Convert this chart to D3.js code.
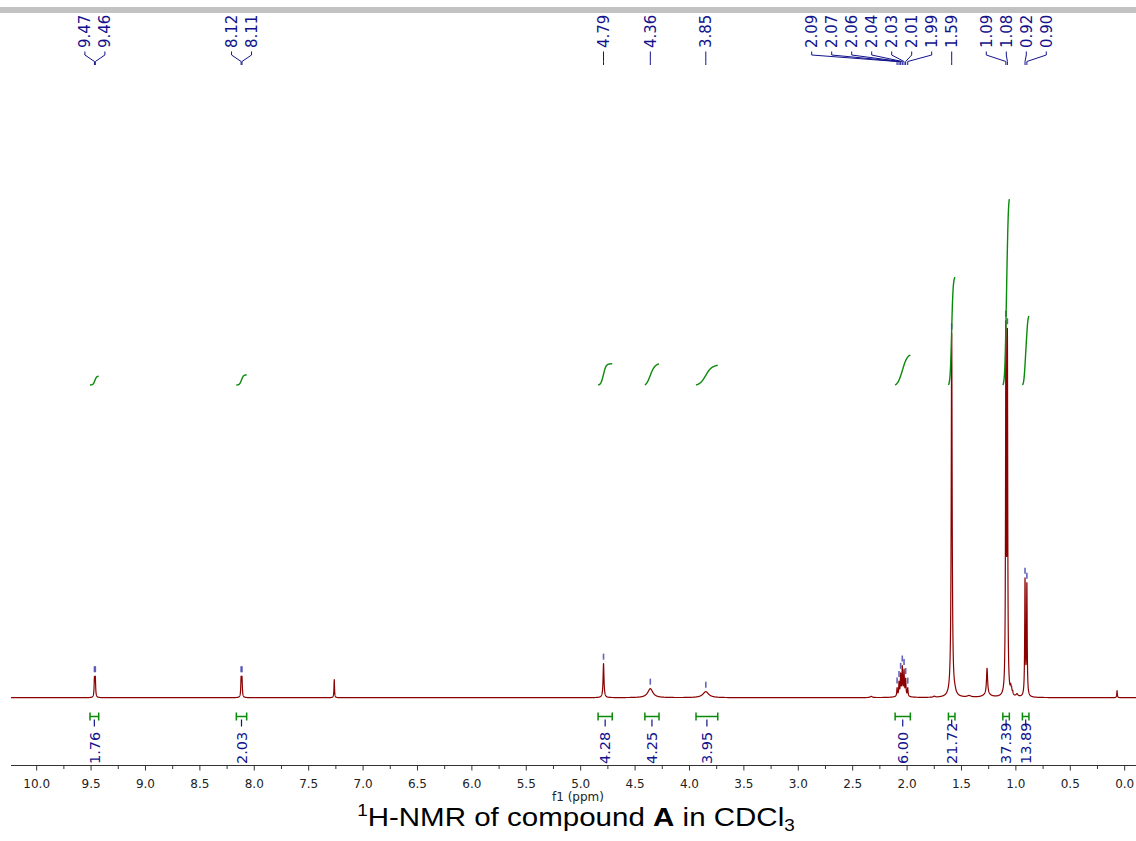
<!DOCTYPE html>
<html>
<head>
<meta charset="utf-8">
<script src="https://cdn.jsdelivr.net/npm/d3@7"></script>
<style>
  html, body { margin: 0; padding: 0; background: #ffffff; }
  svg { display: block; }
</style>
</head>
<body>
<svg id="chart" width="1136" height="841"></svg>
<script>
// ---- Spectrum lines: shift (ppm), height, half-width (ppm) ----
const linePpm    = [9.469, 9.461, 8.121, 8.113, 7.265, 4.790, 4.360, 3.850, 2.330,
                    2.092, 2.074, 2.059, 2.044, 2.028, 2.013, 1.994, 2.045, 1.750,
                    1.590, 1.590, 1.560, 1.430, 1.265, 1.265,
                    1.092, 1.078, 1.048, 1.040, 1.030, 0.990, 0.916, 0.899, 0.070];
const lineHeight = [18.5, 18.5, 18.5, 18.5, 18, 34, 9, 6, 1.2,
                    8, 13, 20, 27, 24, 16, 8, 2.5, 1,
                    361, 3, 2, 1.5, 26, 3,
                    356, 348, 6, 5, 3, 2.5, 115, 110, 7];
const lineWidth  = [0.0035, 0.0035, 0.0035, 0.0035, 0.003, 0.005, 0.028, 0.032, 0.012,
                    0.0035, 0.0035, 0.0035, 0.0035, 0.0035, 0.0035, 0.0035, 0.04, 0.01,
                    0.005, 0.03, 0.01, 0.02, 0.006, 0.04,
                    0.0035, 0.0035, 0.004, 0.004, 0.004, 0.01, 0.0035, 0.0035, 0.003];

// ---- Picked peaks (ppm) ----
const pickedPpm = [9.469, 9.461, 8.121, 8.113, 4.790, 4.360, 3.850,
                   2.092, 2.074, 2.059, 2.044, 2.028, 2.013, 1.994,
                   1.590, 1.092, 1.078, 0.916, 0.899];

// ---- Integrals: region (ppm) and normalised area ----
const integralFrom  = [9.51, 8.165, 4.84, 4.41, 3.94, 2.11, 1.62, 1.12, 0.94];
const integralTo    = [9.43, 8.07, 4.71, 4.28, 3.74, 1.97, 1.56, 1.06, 0.88];
const integralValue = [1.76, 2.03, 4.28, 4.25, 3.95, 6.00, 21.72, 37.39, 13.89];

// ---- Axis ----
const majorTicks = [10.0, 9.5, 9.0, 8.5, 8.0, 7.5, 7.0, 6.5, 6.0, 5.5, 5.0,
                    4.5, 4.0, 3.5, 3.0, 2.5, 2.0, 1.5, 1.0, 0.5, 0.0];
const minorTicks = [9.75, 9.25, 8.75, 8.25, 7.75, 7.25, 6.75, 6.25, 5.75, 5.25,
                    4.75, 4.25, 3.75, 3.25, 2.75, 2.25, 1.75, 1.25, 0.75, 0.25];
const axisLabel = "f1 (ppm)";

// ---- Styling ----
const C_SPEC = "#8b0000", C_INT = "#0a8a0a", C_TXT = "#12128c", C_MARK = "#4a4ab4";
const FONT = "'DejaVu Sans', Verdana, sans-serif";

const svg = d3.select("#chart");

const x = d3.scaleLinear().domain([10.236, -0.104]).range([11, 1136]);
const y = d3.scaleLinear().domain([0, 400]).range([697.7, 297.7]);
const yInt = d3.scaleLinear().domain([0, 40]).range([385, 385 - 40 * 4.97]);
const AXIS_Y = 765.5;

function spectrumAt(p) {
  let s = 0;
  for (let i = 0; i < linePpm.length; i++) {
    const u = (p - linePpm[i]) / lineWidth[i];
    s += lineHeight[i] / (1 + u * u);
  }
  return s;
}

// top band
svg.append("rect").attr("x", 0).attr("y", 7).attr("width", 1136).attr("height", 6)
  .attr("fill", "#c2c2c2");

// ---- spectrum trace ----
const step = 0.0005;
const nPts = Math.round((x.domain()[0] - x.domain()[1]) / step) + 1;
const trace = d3.range(nPts).map(i => {
  const p = x.domain()[0] - i * step;
  return { p, v: spectrumAt(p) };
});
svg.append("path")
  .datum(trace)
  .attr("fill", "none")
  .attr("stroke", C_SPEC)
  .attr("stroke-width", 1.2)
  .attr("stroke-linejoin", "round")
  .attr("d", d3.line().x(d => x(d.p)).y(d => y(d.v)));

// ---- peak markers ----
svg.append("g").selectAll("line").data(pickedPpm).join("line")
  .attr("x1", d => x(d)).attr("x2", d => x(d))
  .attr("y1", d => y(spectrumAt(d)) - 10)
  .attr("y2", d => y(spectrumAt(d)) - 4)
  .attr("stroke", C_MARK).attr("stroke-width", 1.6).attr("opacity", 0.85);

// ---- peak labels with de-overlap ----
const SPACING = 20;
const px = pickedPpm.map(p => x(p));
const order = d3.range(px.length).sort((a, b) => px[a] - px[b]);
const groups = [];
order.forEach(i => {
  const g = groups[groups.length - 1];
  if (g && px[i] - px[g[g.length - 1]] < SPACING) g.push(i); else groups.push([i]);
});
const labelX = new Array(px.length);
const gLeft = [], gRight = [];
groups.forEach((g, k) => {
  const c = d3.mean(g, i => px[i]);
  const left = c - (g.length - 1) * SPACING / 2;
  gLeft[k] = left; gRight[k] = left + (g.length - 1) * SPACING;
});
for (let k = groups.length - 2; k >= 0; k--) {
  const limit = gLeft[k + 1] - SPACING;
  if (gRight[k] > limit) { const d = gRight[k] - limit; gLeft[k] -= d; gRight[k] -= d; }
}
groups.forEach((g, k) => g.forEach((i, j) => { labelX[i] = gLeft[k] + j * SPACING; }));

const fmt = d3.format(".2f");
const lbl = svg.append("g");
pickedPpm.forEach((p, i) => {
  lbl.append("text")
    .attr("transform", `translate(${labelX[i]},48) rotate(-90)`)
    .attr("dy", "0.36em")
    .attr("text-anchor", "start")
    .attr("font-family", FONT).attr("font-size", 15)
    .attr("fill", C_TXT)
    .text(fmt(p));
  lbl.append("path")
    .attr("d", `M${labelX[i]},51.5 V55 L${px[i]},61.5 V65`)
    .attr("fill", "none").attr("stroke", C_TXT).attr("stroke-width", 1);
});

// ---- integrals ----
const gi = svg.append("g");
integralValue.forEach((val, k) => {
  const a = integralFrom[k], b = integralTo[k];
  const N = 80;
  const ppmS = d3.range(N).map(j => a + (b - a) * j / (N - 1));
  const vals = ppmS.map(spectrumAt);
  const cum = d3.cumsum(vals);
  const tot = cum[N - 1];
  const C = Array.from(cum, c => c / tot);
  const at = t => t <= 0 ? 0 : t >= 1 ? 1 : C[Math.round(t * (N - 1))];
  const sigma = 0.12;
  const ks = d3.range(-30, 31).map(j => j / 10 * sigma);
  const wk = ks.map(u => Math.exp(-0.5 * (u / sigma) ** 2));
  const wsum = d3.sum(wk);
  let S = d3.range(N).map(j => {
    const t = j / (N - 1);
    let s = 0;
    ks.forEach((u, m) => { s += at(t + u) * wk[m]; });
    return s / wsum;
  });
  const s0 = S[0], s1 = S[N - 1];
  S = S.map(s => (s - s0) / (s1 - s0));
  gi.append("path")
    .datum(d3.range(N))
    .attr("fill", "none").attr("stroke", C_INT).attr("stroke-width", 1.4)
    .attr("d", d3.line().curve(d3.curveMonotoneX)
      .x(j => x(ppmS[j])).y(j => yInt(val * S[j])));

  // bracket
  const x1 = x(a), x2 = x(b), cx = (x1 + x2) / 2, by = 716.5;
  gi.append("path")
    .attr("d", `M${x1},${by} H${x2} M${x1},${by - 4} V${by + 4} M${x2},${by - 4} V${by + 4}`)
    .attr("fill", "none").attr("stroke", C_INT).attr("stroke-width", 1.5);
  gi.append("line").attr("x1", cx).attr("x2", cx).attr("y1", by + 3).attr("y2", by + 10)
    .attr("stroke", C_TXT).attr("stroke-width", 1.2);
  gi.append("text")
    .attr("transform", `translate(${cx},764) rotate(-90)`)
    .attr("dy", "0.36em")
    .attr("text-anchor", "start")
    .attr("font-family", FONT).attr("font-size", 14.5)
    .attr("fill", C_TXT)
    .text(fmt(val));
});

// ---- axis ----
const ax = svg.append("g");
ax.append("line").attr("x1", 11).attr("x2", 1136).attr("y1", AXIS_Y).attr("y2", AXIS_Y)
  .attr("stroke", "#333").attr("stroke-width", 1);
ax.selectAll("line.maj").data(majorTicks).join("line").attr("class", "maj")
  .attr("x1", d => x(d)).attr("x2", d => x(d))
  .attr("y1", AXIS_Y).attr("y2", AXIS_Y + 5)
  .attr("stroke", "#333").attr("stroke-width", 1);
ax.selectAll("line.min").data(minorTicks).join("line").attr("class", "min")
  .attr("x1", d => x(d)).attr("x2", d => x(d))
  .attr("y1", AXIS_Y).attr("y2", AXIS_Y + 3.5)
  .attr("stroke", "#333").attr("stroke-width", 1);
ax.selectAll("text").data(majorTicks).join("text")
  .attr("x", d => x(d)).attr("y", 787.5)
  .attr("text-anchor", "middle")
  .attr("font-family", FONT).attr("font-size", 12).attr("fill", "#222")
  .text(d3.format(".1f"));
svg.append("text").attr("x", 578).attr("y", 801)
  .attr("text-anchor", "middle")
  .attr("font-family", FONT).attr("font-size", 12).attr("fill", "#222")
  .text(axisLabel);

// ---- title (stretched horizontally to its caption width) ----
const TITLE_CX = 576, TITLE_W = 438;
const titleG = svg.append("g");
const title = titleG.append("text")
  .attr("x", 0).attr("y", 0)
  .attr("text-anchor", "middle")
  .attr("font-family", "'Liberation Sans', Arial, sans-serif")
  .attr("font-size", 25).attr("fill", "#000");
title.append("tspan").attr("font-size", 16).attr("dy", -10).text("1");
title.append("tspan").attr("dy", 10).text("H-NMR of compound ");
title.append("tspan").attr("font-weight", "bold").text("A");
title.append("tspan").text(" in CDCl");
title.append("tspan").attr("font-size", 16).attr("dy", 5).text("3");
const bb = title.node().getBBox();
const sx = TITLE_W / bb.width;
titleG.attr("transform", `translate(${TITLE_CX - (bb.x + bb.width / 2) * sx},826) scale(${sx},1)`);
</script>
</body>
</html>
